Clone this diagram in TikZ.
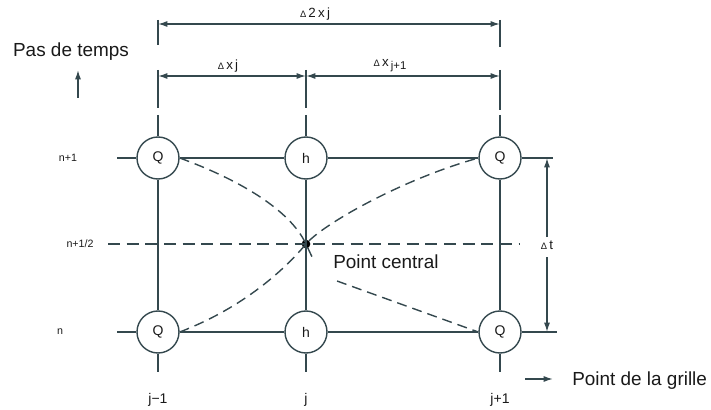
\documentclass[tikz,border=0pt]{standalone}
\usepackage{fontspec}
\setmainfont{Liberation Sans}
\usetikzlibrary{arrows.meta}
\definecolor{linec}{RGB}{52,72,78}
\definecolor{txt}{RGB}{25,25,25}
\begin{document}
\begin{tikzpicture}[x=0.75pt,y=-0.75pt,
  ln/.style={draw=linec,line width=1.05pt},
  qc/.style={circle,draw=linec,line width=1.05pt,minimum size=31.5pt,inner sep=0pt,font=\fontsize{10.5}{12}\selectfont,text=txt},
  dsh/.style={ln,dash pattern=on 9pt off 5pt},
  crv/.style={ln,dash pattern=on 7.5pt off 4.5pt},
  dim/.style={ln,{Latex[length=7pt,width=4.5pt]}-{Latex[length=7pt,width=4.5pt]}},
  onearr/.style={ln,-{Latex[length=7pt,width=4.5pt]}},
  big/.style={font=\fontsize{14.2}{17}\selectfont,text=txt,inner sep=0pt},
  idx/.style={font=\fontsize{10.5}{12}\selectfont,text=txt,inner sep=0pt},
  row/.style={font=\fontsize{8}{10}\selectfont,text=txt,inner sep=0pt},
  dl/.style={font=\fontsize{10}{11}\selectfont,text=txt,inner sep=0pt},
  dotn/.style={circle,fill=black,inner sep=0pt,minimum size=6.5pt}
]
\useasboundingbox (0,0) rectangle (711,410);

% grid nodes
\node[qc] (a1) at (158,158) {Q};
\node[qc] (b1) at (306,158) {h};
\node[qc] (c1) at (500,158) {Q};
\node[qc] (a0) at (158,332) {Q};
\node[qc] (b0) at (306,332) {h};
\node[qc] (c0) at (500,332) {Q};
\node[dotn] (ctr) at (306,244) {};

% free ends
\coordinate (L1) at (117,158); \coordinate (R1) at (553,158);
\coordinate (L0) at (117,332); \coordinate (R0) at (557,332);
\coordinate (ta) at (158,115); \coordinate (ba) at (158,372);
\coordinate (tb) at (306,115); \coordinate (bb) at (306,372);
\coordinate (tc) at (500,115); \coordinate (bc) at (500,372);
\coordinate (Lh) at (108,244); \coordinate (Rh) at (520,244);

% grid lines
\draw[ln] (L1) -- (a1) (a1) -- (b1) (b1) -- (c1) (c1) -- (R1);
\draw[ln] (L0) -- (a0) (a0) -- (b0) (b0) -- (c0) (c0) -- (R0);
\draw[ln] (ta) -- (a1) (a1) -- (a0) (a0) -- (ba);
\draw[ln] (tb) -- (b1) (b1) -- (b0) (b0) -- (bb);
\draw[ln] (tc) -- (c1) (c1) -- (c0) (c0) -- (bc);
\draw[dsh] (Lh) -- (Rh);

% dashed curves
\draw[crv] (a1.east) .. controls (240,180) and (290,210) .. (ctr.center) -- ++(7,15);
\draw[crv] (a0.east) .. controls (250,305) and (290,263) .. (ctr.center)
  .. controls (322,225) and (400,180) .. (c1.west);
\coordinate (lr) at (337,281);
\draw[crv] (lr) -- (c0.west);

% extension lines
\draw[ln] (158,20) -- (158,45) (500,20) -- (500,47);
\draw[ln] (158,70) -- (158,108) (306,70) -- (306,108) (500,70) -- (500,110);

% dimension lines
\coordinate (d2a) at (158,24); \coordinate (d2b) at (500,24);
\coordinate (d1a) at (158,76); \coordinate (d1b) at (306,76); \coordinate (d1c) at (500,76);
\draw[dim] (d2a) -- (d2b);
\draw[dim] (d1a) -- (d1b);
\draw[dim] (d1b) -- (d1c);
\node[dl] (l2x) at (315,14) {{\fontsize{7}{8}\selectfont Δ}\,2\,x\,j};
\node[dl] (lxj) at (228,66) {{\fontsize{7}{8}\selectfont Δ}\,x\,j};
\node[dl] (lxj1) at (390,66) {{\fontsize{7}{8}\selectfont Δ}\,x\,\raisebox{-0.45ex}{\fontsize{8.5}{9}\selectfont j+1}};

% delta t
\node[dl] (dt) at (547,245) {{\fontsize{7}{8}\selectfont Δ}\,t};
\coordinate (dtt) at (547,158); \coordinate (dtb) at (547,332);
\draw[onearr] (547,237) -- (dtt);
\draw[onearr] (547,257) -- (dtb);

% row labels
\node[row] (r1) at (68,158) {n+1};
\node[row] (rh) at (80,244) {n+1/2};
\node[row] (r0) at (60,332) {n};

% column labels
\node[idx,anchor=base] (cj1) at (158,403) {j−1};
\node[idx,anchor=base] (cj) at (306,403) {j};
\node[idx,anchor=base] (cj2) at (500,403) {j+1};

% axis captions
\node[big,anchor=base] (pt) at (71,57) {Pas de temps};
\coordinate (pta) at (78,98); \coordinate (ptb) at (78,70);
\draw[onearr] (pta) -- (ptb);
\node[big,anchor=base west] (pc) at (333,268) {Point central};
\node[big,anchor=base west] (pg) at (572,385) {Point de la grille};
\coordinate (pga) at (525,379); \coordinate (pgb) at (553,379);
\draw[onearr] (pga) -- (pgb);
\end{tikzpicture}
\end{document}
